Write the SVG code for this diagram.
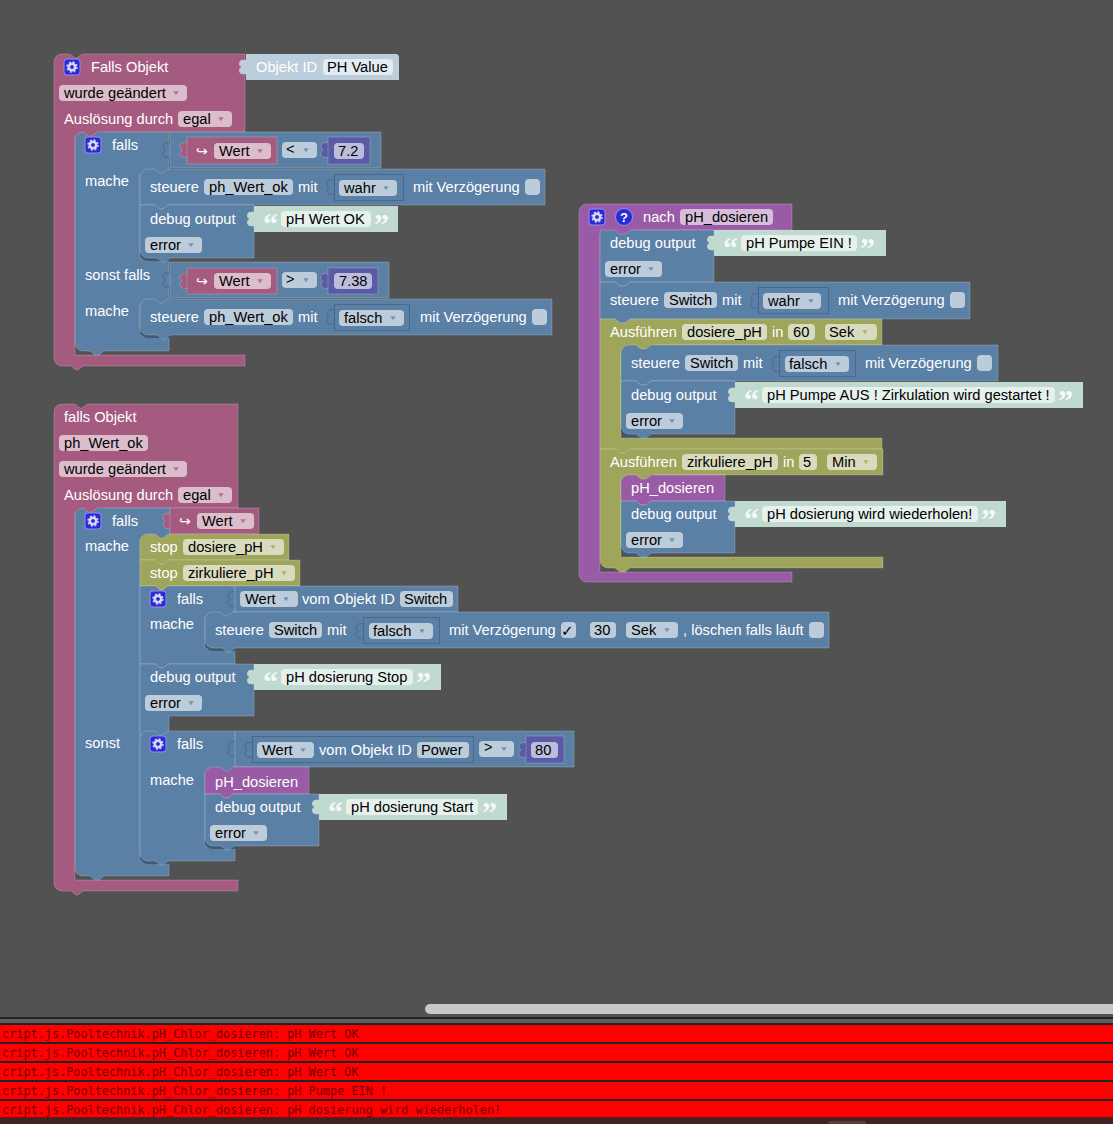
<svg xmlns="http://www.w3.org/2000/svg" width="1113" height="1124" viewBox="0 0 1113 1124">
<style>
text{font-family:"Liberation Sans",Arial,sans-serif;font-size:14.67px;fill:#000}
.l{fill:#fff}
.q{font-family:"Liberation Serif",serif;font-weight:bold;font-size:30px;fill:#f4faf7}
.a{font-family:"DejaVu Sans",sans-serif;font-size:14px;fill:#fff}
.log{font-family:"DejaVu Sans Mono",monospace;font-size:11.85px;fill:#6e0000}
.b,.p,.o,.u,.n{stroke:#fff;stroke-opacity:.2;stroke-width:1}
.b{fill:#5b80a5}.p{fill:#a55b80}.o{fill:#9fa55b}.u{fill:#995ba5}.n{fill:#5b5ba5}
.tx{fill:#c0dad0}.id{fill:#bccddb}
.in{fill:#5b80a5;stroke:#48698a;stroke-width:1}
.tb{fill:#5b80a5;stroke:#48698a;stroke-width:1}
.sh{fill:#3f5a75}
.fd{fill:#fff;fill-opacity:.6}
.cb{fill:#fff;fill-opacity:.6}
.db{fill:#5b80a5;fill-opacity:.75}.dp{fill:#a55b80;fill-opacity:.75}.do{fill:#9fa55b;fill-opacity:.75}
</style>
<defs>
<path id="pz" d="M0.5,-7 C-4,-8 -7,-7 -7,-3 C-7,-1 -5,-1 -5,0 C-5,1 -7,1 -7,3 C-7,7 -4,8 0.5,7 Z"/>
<path id="tri" d="M-2.700,-1.700 H2.700 L0,2.300 Z"/>
<g id="gear">
<rect x="-8" y="-8" width="16" height="16" rx="3" fill="#2a2ad6" stroke="#8f8ff0" stroke-width="1"/>
<circle r="3.2" fill="none" stroke="#d8d8f6" stroke-width="2.6"/>
<circle r="5" fill="none" stroke="#d8d8f6" stroke-width="1.4" stroke-dasharray="2 1.93"/>
</g>
</defs>
<rect width="1113" height="1124" fill="#525252"/>

<g id="connectors" fill="none"></g>

<!-- first trigger: value changes on PH Value -->
<g id="trigger-ph-value">
<path class="p" d="M54,62 a8,8 0 0 1 8,-8 H70 l5,4 h2 l5,-4 H245 V132 H105 V137 H75 V355 H245 V366 H83 l-5,4 h-2 l-5,-4 H62 a8,8 0 0 1 -8,-8 Z"/>
<use href="#gear" x="72" y="67"/>
<text class="l" x="91" y="72">Falls Objekt</text>
<use class="id" href="#pz" x="246" y="67"/>
<path class="id" d="M246,54 H397 l2,2 V80 H246 Z"/>
<text class="l" x="256" y="72">Objekt ID</text>
<rect class="fd" x="323" y="59" width="70" height="16" rx="4"/>
<text x="327" y="72">PH Value</text>
<rect class="fd" x="59" y="85" width="128" height="16" rx="4"/>
<text x="64" y="98">wurde geändert</text>
<use class="dp" href="#tri" x="176" y="93"/>
<text class="l" x="64" y="124">Auslösung durch</text>
<rect class="fd" x="178" y="111" width="54" height="16" rx="4"/>
<text x="183" y="124">egal</text>
<use class="dp" href="#tri" x="221" y="119"/>
</g>

<g id="if-ph-range">
<path class="b" d="M75,140 a8,8 0 0 1 8,-8 l5,4 h4 l5,-4 H169 V174 H140 V258 H169 V304 H140 V335 H169 V351 H104 l-5,4 h-4 l-5,-4 H83 a8,8 0 0 1 -8,-8 Z"/>
<use href="#gear" x="93" y="145"/>
<text class="l" x="112" y="150">falls</text>
<text class="l" x="85" y="186">mache</text>
<text class="l" x="85" y="280">sonst falls</text>
<text class="l" x="85" y="316">mache</text>
</g>

<g id="compare-low">
<use class="tb" href="#pz" x="170" y="150"/>
<rect class="b" x="170" y="132" width="211" height="36"/>
<use class="p" href="#pz" x="187" y="150"/>
<rect class="p" x="187" y="137" width="90" height="27"/>
<text class="a" x="196" y="156">↪</text>
<rect class="fd" x="214" y="143" width="57" height="16" rx="4"/>
<text x="219" y="156">Wert</text>
<use class="dp" href="#tri" x="260" y="151"/>
<rect class="fd" x="282" y="142" width="35" height="16" rx="4"/>
<text x="286" y="154">&lt;</text>
<use class="db" href="#tri" x="306" y="150"/>
<use class="n" href="#pz" x="328" y="150"/>
<rect class="n" x="328" y="137" width="42" height="27"/>
<rect class="fd" x="334" y="143" width="30" height="16" rx="4"/>
<text x="338" y="156">7.2</text>
</g>

<g id="set-ok-true">
<path class="b" d="M140,177 a8,8 0 0 1 8,-8 h7 l5,4 h3 l5,-4 H545 V205 H168 l-5,4 h-3 l-5,-4 H140 Z"/>
<text class="l" x="150" y="192">steuere</text>
<rect class="fd" x="204" y="179" width="89" height="16" rx="4"/>
<text x="209" y="192">ph_Wert_ok</text>
<text class="l" x="298" y="192">mit</text>
<use class="tb" href="#pz" x="334" y="187"/>
<rect class="in" x="334.500" y="174.500" width="69" height="26"/>
<rect class="fd" x="339" y="180" width="58" height="16" rx="4"/>
<text x="344" y="193">wahr</text>
<use class="db" href="#tri" x="386" y="188"/>
<text class="l" x="413" y="192">mit Verzögerung</text>
<rect class="cb" x="525" y="179" width="15" height="16" rx="4"/>
</g>

<g id="debug-ok">
<path class="sh" d="M140,250 V254 a8,8 0 0 0 8,7 H172 V258 Z"/>
<path class="b" d="M140,205 H155 l5,4 h3 l5,-4 H254 V258 H170 l-5,4 h-3 l-5,-4 H148 a8,8 0 0 1 -8,-8 Z"/>
<text class="l" x="150" y="224">debug output</text>
<rect class="fd" x="145" y="237" width="57" height="16" rx="4"/>
<text x="150" y="250">error</text>
<use class="db" href="#tri" x="191" y="245"/>
<use class="tx" href="#pz" x="254" y="219"/>
<rect class="tx" x="254" y="206" width="144" height="26"/>
<text class="q" x="263" y="234">“</text>
<rect class="fd" x="281" y="211" width="90" height="16" rx="4"/>
<text x="286" y="224">pH Wert OK</text>
<text class="q" x="374" y="234">”</text>
</g>

<g id="compare-high">
<use class="tb" href="#pz" x="170" y="280"/>
<rect class="b" x="170" y="262" width="219" height="36"/>
<use class="p" href="#pz" x="187" y="281"/>
<rect class="p" x="187" y="268" width="90" height="26"/>
<text class="a" x="196" y="286">↪</text>
<rect class="fd" x="214" y="273" width="57" height="16" rx="4"/>
<text x="219" y="286">Wert</text>
<use class="dp" href="#tri" x="260" y="281"/>
<rect class="fd" x="282" y="272" width="35" height="16" rx="4"/>
<text x="286" y="284">&gt;</text>
<use class="db" href="#tri" x="306" y="280"/>
<use class="n" href="#pz" x="328" y="281"/>
<rect class="n" x="328" y="268" width="50" height="26"/>
<rect class="fd" x="334" y="273" width="38" height="16" rx="4"/>
<text x="339" y="286">7.38</text>
</g>

<g id="set-ok-false">
<path class="sh" d="M140,327 V331 a8,8 0 0 0 8,7 H172 V335 Z"/>
<path class="b" d="M140,307 a8,8 0 0 1 8,-8 h7 l5,4 h3 l5,-4 H552 V335 H170 l-5,4 h-3 l-5,-4 H148 a8,8 0 0 1 -8,-8 Z"/>
<text class="l" x="150" y="322">steuere</text>
<rect class="fd" x="204" y="309" width="89" height="16" rx="4"/>
<text x="209" y="322">ph_Wert_ok</text>
<text class="l" x="298" y="322">mit</text>
<use class="tb" href="#pz" x="334" y="317"/>
<rect class="in" x="334.500" y="304.500" width="75" height="26"/>
<rect class="fd" x="339" y="310" width="65" height="16" rx="4"/>
<text x="344" y="323">falsch</text>
<use class="db" href="#tri" x="393" y="318"/>
<text class="l" x="420" y="322">mit Verzögerung</text>
<rect class="cb" x="532" y="309" width="15" height="16" rx="4"/>
</g>

<!-- second trigger: value changes on ph_Wert_ok -->
<g id="trigger-ph-wert-ok">
<path class="p" d="M54,412 a8,8 0 0 1 8,-8 H75 l5,4 h2 l5,-4 H238 V508 H105 V513 H75 V880 H238 V891 H83 l-5,4 h-2 l-5,-4 H62 a8,8 0 0 1 -8,-8 Z"/>
<text class="l" x="64" y="422">falls Objekt</text>
<rect class="fd" x="59" y="435" width="89" height="16" rx="4"/>
<text x="64" y="448">ph_Wert_ok</text>
<rect class="fd" x="59" y="461" width="128" height="16" rx="4"/>
<text x="64" y="474">wurde geändert</text>
<use class="dp" href="#tri" x="176" y="469"/>
<text class="l" x="64" y="500">Auslösung durch</text>
<rect class="fd" x="178" y="487" width="54" height="16" rx="4"/>
<text x="183" y="500">egal</text>
<use class="dp" href="#tri" x="221" y="495"/>
</g>

<g id="if-wert">
<path class="b" d="M75,516 a8,8 0 0 1 8,-8 l5,4 h4 l5,-4 H170 V539 H140 V861 H169 V876 H104 l-5,4 h-4 l-5,-4 H83 a8,8 0 0 1 -8,-8 Z"/>
<use href="#gear" x="93" y="521"/>
<text class="l" x="112" y="526">falls</text>
<text class="l" x="85" y="551">mache</text>
<text class="l" x="85" y="748">sonst</text>
<use class="p" href="#pz" x="170" y="521"/>
<rect class="p" x="170" y="508" width="89" height="26"/>
<text class="a" x="179" y="526">↪</text>
<rect class="fd" x="197" y="513" width="57" height="16" rx="4"/>
<text x="202" y="526">Wert</text>
<use class="dp" href="#tri" x="243" y="521"/>
</g>

<g id="stop-dosiere">
<path class="o" d="M140,542 a8,8 0 0 1 8,-8 h7 l5,4 h3 l5,-4 H289 V560 H168 l-5,4 h-3 l-5,-4 H140 Z"/>
<text class="l" x="150" y="552">stop</text>
<rect class="fd" x="183" y="539" width="101" height="16" rx="4"/>
<text x="188" y="552">dosiere_pH</text>
<use class="do" href="#tri" x="273" y="547"/>
</g>

<g id="stop-zirkuliere">
<path class="o" d="M140,560 H155 l5,4 h3 l5,-4 H300 V586 H168 l-5,4 h-3 l-5,-4 H140 Z"/>
<text class="l" x="150" y="578">stop</text>
<rect class="fd" x="183" y="565" width="112" height="16" rx="4"/>
<text x="188" y="578">zirkuliere_pH</text>
<use class="do" href="#tri" x="284" y="573"/>
</g>

<g id="if-switch">
<path class="b" d="M140,586 H155 l5,4 h3 l5,-4 H235 V617 H205 V648 H235 V664 H168 l-5,4 h-3 l-5,-4 H140 Z"/>
<use href="#gear" x="158" y="599"/>
<text class="l" x="177" y="604">falls</text>
<text class="l" x="150" y="629">mache</text>
<use class="tb" href="#pz" x="235" y="599"/>
<rect class="b" x="235" y="586" width="223" height="26"/>
<rect class="fd" x="240" y="591" width="58" height="16" rx="4"/>
<text x="245" y="604">Wert</text>
<use class="db" href="#tri" x="286" y="599"/>
<text class="l" x="302" y="604">vom Objekt ID</text>
<rect class="fd" x="400" y="591" width="53" height="16" rx="4"/>
<text x="404" y="604">Switch</text>
</g>

<g id="set-switch-off-delayed">
<path class="sh" d="M205,640 V644 a8,8 0 0 0 8,7 H237 V648 Z"/>
<path class="b" d="M205,620 a8,8 0 0 1 8,-8 h7 l5,4 h3 l5,-4 H829 V648 H235 l-5,4 h-3 l-5,-4 H213 a8,8 0 0 1 -8,-8 Z"/>
<text class="l" x="215" y="635">steuere</text>
<rect class="fd" x="269" y="622" width="53" height="16" rx="4"/>
<text x="274" y="635">Switch</text>
<text class="l" x="327" y="635">mit</text>
<use class="tb" href="#pz" x="363" y="631"/>
<rect class="in" x="363.500" y="617.500" width="76" height="26"/>
<rect class="fd" x="369" y="623" width="64" height="16" rx="4"/>
<text x="373" y="636">falsch</text>
<use class="db" href="#tri" x="422" y="631"/>
<text class="l" x="449" y="635">mit Verzögerung</text>
<rect class="cb" x="561" y="622" width="15" height="16" rx="4"/>
<text x="561" y="636" style="font-family:'DejaVu Sans',sans-serif;font-size:15px">✓</text>
<rect class="fd" x="590" y="622" width="26" height="16" rx="4"/>
<text x="594" y="635">30</text>
<rect class="fd" x="626" y="622" width="52" height="16" rx="4"/>
<text x="631" y="635">Sek</text>
<use class="db" href="#tri" x="667" y="630"/>
<text class="l" x="683" y="635">, löschen falls läuft</text>
<rect class="cb" x="809" y="622" width="15" height="16" rx="4"/>
</g>

<g id="debug-stop">
<path class="sh" d="M140,708 V712 a8,8 0 0 0 8,7 H172 V716 Z"/>
<path class="b" d="M140,664 H155 l5,4 h3 l5,-4 H254 V716 H169 V736 H140 Z"/>
<text class="l" x="150" y="682">debug output</text>
<rect class="fd" x="145" y="695" width="57" height="16" rx="4"/>
<text x="150" y="708">error</text>
<use class="db" href="#tri" x="191" y="703"/>
<use class="tx" href="#pz" x="254" y="677"/>
<rect class="tx" x="254" y="664" width="187" height="26"/>
<text class="q" x="263" y="692">“</text>
<rect class="fd" x="281" y="669" width="132" height="16" rx="4"/>
<text x="286" y="682">pH dosierung Stop</text>
<text class="q" x="416" y="692">”</text>
</g>

<g id="if-power">
<path class="sh" d="M140,853 V857 a8,8 0 0 0 8,7 H172 V861 Z"/>
<path class="b" d="M140,739 a8,8 0 0 1 8,-8 h7 l5,4 h3 l5,-4 H235 V772 H205 V846 H235 V861 H168 l-5,4 h-3 l-5,-4 H148 a8,8 0 0 1 -8,-8 Z"/>
<use href="#gear" x="158" y="744"/>
<text class="l" x="177" y="749">falls</text>
<text class="l" x="150" y="785">mache</text>
<use class="tb" href="#pz" x="235" y="749"/>
<rect class="b" x="235" y="731" width="339" height="36"/>
<use class="tb" href="#pz" x="252" y="750"/>
<rect class="in" x="252.500" y="736.500" width="221" height="26"/>
<rect class="fd" x="257" y="742" width="57" height="16" rx="4"/>
<text x="262" y="755">Wert</text>
<use class="db" href="#tri" x="303" y="750"/>
<text class="l" x="319" y="755">vom Objekt ID</text>
<rect class="fd" x="417" y="742" width="52" height="16" rx="4"/>
<text x="421" y="755">Power</text>
<rect class="fd" x="479" y="741" width="35" height="16" rx="4"/>
<text x="484" y="752">&gt;</text>
<use class="db" href="#tri" x="504" y="749"/>
<use class="n" href="#pz" x="526" y="750"/>
<rect class="n" x="526" y="736" width="38" height="27"/>
<rect class="fd" x="531" y="742" width="27" height="16" rx="4"/>
<text x="535" y="755">80</text>
</g>

<g id="call-dosieren-start">
<path class="u" d="M205,775 a8,8 0 0 1 8,-8 h7 l5,4 h3 l5,-4 H309 V794 H233 l-5,4 h-3 l-5,-4 H205 Z"/>
<text class="l" x="215" y="787">pH_dosieren</text>
</g>

<g id="debug-start">
<path class="sh" d="M205,838 V842 a8,8 0 0 0 8,7 H237 V846 Z"/>
<path class="b" d="M205,794 H220 l5,4 h3 l5,-4 H319 V846 H234 l-5,4 h-3 l-5,-4 H213 a8,8 0 0 1 -8,-8 Z"/>
<text class="l" x="215" y="812">debug output</text>
<rect class="fd" x="210" y="825" width="57" height="16" rx="4"/>
<text x="215" y="838">error</text>
<use class="db" href="#tri" x="256" y="833"/>
<use class="tx" href="#pz" x="319" y="807"/>
<rect class="tx" x="319" y="794" width="188" height="26"/>
<text class="q" x="328" y="822">“</text>
<rect class="fd" x="346" y="799" width="132" height="16" rx="4"/>
<text x="351" y="812">pH dosierung Start</text>
<text class="q" x="482" y="822">”</text>
</g>

<!-- procedure nach pH_dosieren -->
<g id="proc-ph-dosieren">
<path class="u" d="M579,212 a8,8 0 0 1 8,-8 H792 V230 H635 V235 H600 V572 H792 V582 H587 a8,8 0 0 1 -8,-8 Z"/>
<use href="#gear" x="597" y="217"/>
<circle cx="624" cy="217" r="8.500" fill="#2a2ad6" stroke="#8f8ff0"/>
<text x="620" y="222" style="fill:#fff;font-weight:bold;font-size:13px">?</text>
<text class="l" x="643" y="222">nach</text>
<rect class="fd" x="680" y="209" width="93" height="16" rx="4"/>
<text x="685" y="222">pH_dosieren</text>
</g>

<g id="debug-pump-on">
<path class="b" d="M600,238 V230 H615 l5,4 h5 l5,-4 H714 V282 H630 l-5,4 h-5 l-5,-4 H600 Z"/>
<text class="l" x="610" y="248">debug output</text>
<rect class="fd" x="605" y="261" width="57" height="16" rx="4"/>
<text x="610" y="274">error</text>
<use class="db" href="#tri" x="651" y="269"/>
<use class="tx" href="#pz" x="714" y="243"/>
<rect class="tx" x="714" y="230" width="172" height="26"/>
<text class="q" x="723" y="258">“</text>
<rect class="fd" x="741" y="235" width="116" height="16" rx="4"/>
<text x="746" y="248">pH Pumpe EIN !</text>
<text class="q" x="860" y="258">”</text>
</g>

<g id="set-switch-on">
<path class="b" d="M600,282 H615 l5,4 h5 l5,-4 H970 V319 H630 l-5,4 h-5 l-5,-4 H600 Z"/>
<text class="l" x="610" y="305">steuere</text>
<rect class="fd" x="664" y="292" width="53" height="16" rx="4"/>
<text x="669" y="305">Switch</text>
<text class="l" x="722" y="305">mit</text>
<use class="tb" href="#pz" x="758" y="301"/>
<rect class="in" x="758.500" y="287.500" width="70" height="26"/>
<rect class="fd" x="763" y="293" width="58" height="16" rx="4"/>
<text x="768" y="306">wahr</text>
<use class="db" href="#tri" x="811" y="301"/>
<text class="l" x="838" y="305">mit Verzögerung</text>
<rect class="cb" x="950" y="292" width="15" height="16" rx="4"/>
</g>

<g id="timeout-dosiere">
<path class="o" d="M600,319 H615 l5,4 h5 l5,-4 H882 V345 H655 V350 H621 V438 H882 V449 H630 l-5,4 h-5 l-5,-4 H600 Z"/>
<text class="l" x="610" y="337">Ausführen</text>
<rect class="fd" x="682" y="324" width="85" height="16" rx="4"/>
<text x="687" y="337">dosiere_pH</text>
<text class="l" x="772" y="337">in</text>
<rect class="fd" x="788" y="324" width="27" height="16" rx="4"/>
<text x="793" y="337">60</text>
<rect class="fd" x="825" y="324" width="52" height="16" rx="4"/>
<text x="829" y="337">Sek</text>
<use class="do" href="#tri" x="865" y="332"/>
</g>

<g id="set-switch-off">
<path class="b" d="M621,353 a8,8 0 0 1 8,-8 h7 l5,4 h5 l5,-4 H998 V381 H651 l-5,4 h-5 l-5,-4 H621 Z"/>
<text class="l" x="631" y="368">steuere</text>
<rect class="fd" x="685" y="355" width="53" height="16" rx="4"/>
<text x="690" y="368">Switch</text>
<text class="l" x="743" y="368">mit</text>
<use class="tb" href="#pz" x="779" y="364"/>
<rect class="in" x="779.500" y="350.500" width="76" height="26"/>
<rect class="fd" x="785" y="356" width="64" height="16" rx="4"/>
<text x="789" y="369">falsch</text>
<use class="db" href="#tri" x="838" y="364"/>
<text class="l" x="865" y="368">mit Verzögerung</text>
<rect class="cb" x="977" y="355" width="15" height="16" rx="4"/>
</g>

<g id="debug-pump-off">
<path class="sh" d="M621,426 V430 a8,8 0 0 0 8,7 H653 V434 Z"/>
<path class="b" d="M621,381 H636 l5,4 h5 l5,-4 H735 V434 H651 l-5,4 h-5 l-5,-4 H629 a8,8 0 0 1 -8,-8 Z"/>
<text class="l" x="631" y="400">debug output</text>
<rect class="fd" x="626" y="413" width="57" height="16" rx="4"/>
<text x="631" y="426">error</text>
<use class="db" href="#tri" x="672" y="421"/>
<use class="tx" href="#pz" x="735" y="395"/>
<rect class="tx" x="735" y="382" width="348" height="26"/>
<text class="q" x="744" y="410">“</text>
<rect class="fd" x="762" y="387" width="293" height="16" rx="4"/>
<text x="767" y="400">pH Pumpe AUS ! Zirkulation wird gestartet !</text>
<text class="q" x="1058" y="410">”</text>
</g>

<g id="timeout-zirkuliere">
<path class="o" d="M600,449 H615 l5,4 h5 l5,-4 H883 V475 H655 V480 H621 V557 H883 V568 H630 l-5,4 h-5 l-5,-4 H608 a8,8 0 0 1 -8,-8 Z"/>
<text class="l" x="610" y="467">Ausführen</text>
<rect class="fd" x="682" y="454" width="96" height="16" rx="4"/>
<text x="687" y="467">zirkuliere_pH</text>
<text class="l" x="783" y="467">in</text>
<rect class="fd" x="799" y="454" width="18" height="16" rx="4"/>
<text x="803" y="467">5</text>
<rect class="fd" x="827" y="454" width="50" height="16" rx="4"/>
<text x="832" y="467">Min</text>
<use class="do" href="#tri" x="866" y="462"/>
</g>

<g id="call-dosieren-repeat">
<path class="u" d="M621,483 a8,8 0 0 1 8,-8 h7 l5,4 h5 l5,-4 H725 V501 H651 l-5,4 h-5 l-5,-4 H621 Z"/>
<text class="l" x="631" y="493">pH_dosieren</text>
</g>

<g id="debug-repeat">
<path class="sh" d="M621,545 V549 a8,8 0 0 0 8,7 H653 V553 Z"/>
<path class="b" d="M621,501 H636 l5,4 h5 l5,-4 H735 V553 H651 l-5,4 h-5 l-5,-4 H629 a8,8 0 0 1 -8,-8 Z"/>
<text class="l" x="631" y="519">debug output</text>
<rect class="fd" x="626" y="532" width="57" height="16" rx="4"/>
<text x="631" y="545">error</text>
<use class="db" href="#tri" x="672" y="540"/>
<use class="tx" href="#pz" x="735" y="514"/>
<rect class="tx" x="735" y="501" width="271" height="26"/>
<text class="q" x="744" y="529">“</text>
<rect class="fd" x="762" y="506" width="216" height="16" rx="4"/>
<text x="767" y="519">pH dosierung wird wiederholen!</text>
<text class="q" x="981" y="529">”</text>
</g>

<!-- scrollbar and log panel -->
<g id="scrollbar">
<rect x="425" y="1004" width="700" height="10" rx="5" fill="#c9c9c9"/>
</g>
<g id="log">
<rect y="1017" width="1113" height="107" fill="#222"/>
<rect y="1019" width="1113" height="4" fill="#5e5e5e"/>
<rect y="1025" width="1113" height="17" fill="#f00"/>
<rect y="1044" width="1113" height="17" fill="#f00"/>
<rect y="1063" width="1113" height="17" fill="#f00"/>
<rect y="1082" width="1113" height="17" fill="#f00"/>
<rect y="1101" width="1113" height="16.500" fill="#f00"/>
<rect y="1117.500" width="1113" height="6.500" fill="#402222"/>
<rect x="828" y="1121" width="38" height="3" rx="2" fill="#5c3d3d"/>
<text class="log" x="2" y="1038">cript.js.Pooltechnik.pH_Chlor_dosieren: pH Wert OK</text>
<text class="log" x="2" y="1057">cript.js.Pooltechnik.pH_Chlor_dosieren: pH Wert OK</text>
<text class="log" x="2" y="1076">cript.js.Pooltechnik.pH_Chlor_dosieren: pH Wert OK</text>
<text class="log" x="2" y="1095">cript.js.Pooltechnik.pH_Chlor_dosieren: pH Pumpe EIN !</text>
<text class="log" x="2" y="1114">cript.js.Pooltechnik.pH_Chlor_dosieren: pH dosierung wird wiederholen!</text>
</g>
</svg>
